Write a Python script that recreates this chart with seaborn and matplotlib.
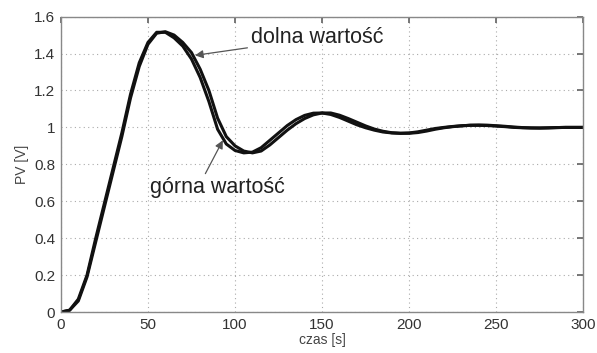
import numpy as np
import pandas as pd
import matplotlib
matplotlib.use("Agg")
import matplotlib.pyplot as plt
import seaborn as sns

t = list(range(0, 305, 5))
gorna = [0.0, 0.01, 0.07, 0.2, 0.4, 0.59, 0.78, 0.97, 1.18, 1.35, 1.46, 1.515, 1.515, 1.485,
         1.44, 1.37, 1.27, 1.14, 0.99, 0.91, 0.875, 0.862, 0.866, 0.89, 0.93, 0.97, 1.01,
         1.042, 1.065, 1.077, 1.078, 1.07, 1.054, 1.034, 1.014, 0.998, 0.985, 0.975, 0.97,
         0.968, 0.97, 0.976, 0.985, 0.994, 1.0, 1.005, 1.009, 1.011, 1.011, 1.01, 1.007,
         1.004, 1.0, 0.998, 0.997, 0.997, 0.998, 0.999, 1.0, 1.0, 1.0]
dolna = [0.0, 0.01, 0.06, 0.19, 0.38, 0.57, 0.76, 0.95, 1.16, 1.33, 1.45, 1.51, 1.518, 1.5,
         1.46, 1.405, 1.315, 1.2, 1.05, 0.95, 0.9, 0.872, 0.862, 0.872, 0.905, 0.945, 0.985,
         1.02, 1.048, 1.068, 1.078, 1.078, 1.066, 1.048, 1.028, 1.008, 0.991, 0.979, 0.971,
         0.968, 0.968, 0.972, 0.98, 0.99, 0.998, 1.004, 1.008, 1.012, 1.013, 1.012, 1.009,
         1.006, 1.002, 0.999, 0.997, 0.996, 0.997, 0.999, 1.0, 1.0, 1.0]

x_ticks = [0, 50, 100, 150, 200, 250, 300]
y_ticks = [0, 0.2, 0.4, 0.6, 0.8, 1.0, 1.2, 1.4, 1.6]
y_tick_labels = ["0", "0.2", "0.4", "0.6", "0.8", "1", "1.2", "1.4", "1.6"]

df = pd.DataFrame({"t": t + t, "pv": gorna + dolna,
                   "seria": ["górna"] * len(t) + ["dolna"] * len(t)})

sns.set_theme(style="white")
plt.rcParams["font.family"] = ["Liberation Sans", "DejaVu Sans"]

fig = plt.figure(figsize=(5.97, 3.53), dpi=100)
ax = fig.add_axes([0.102, 0.116, 0.875, 0.837])

sns.lineplot(data=df, x="t", y="pv", hue="seria", palette=["#111111", "#111111"],
             linewidth=2.2, legend=False, ax=ax)

ax.set_xlim(0, 300)
ax.set_ylim(0, 1.6)
ax.set_xticks(x_ticks)
ax.set_yticks(y_ticks)
ax.set_yticklabels(y_tick_labels)
ax.grid(True, color="#aaaaaa", linestyle=(0, (1, 3)), linewidth=0.8)
for s in ax.spines.values():
    s.set_color("#888888")
    s.set_linewidth(1.0)
ax.tick_params(direction="in", length=4, color="#666666", labelsize=11,
               labelcolor="#333333", top=True, right=True, pad=4)
ax.set_xlabel("czas [s]", fontsize=10, color="#444444", labelpad=1)
ax.set_ylabel("PV [V]", fontsize=10, color="#444444", labelpad=4)

ax.annotate("dolna wartość", xy=(77, 1.39), xytext=(109, 1.485),
            fontsize=15.5, color="#222222", va="center", ha="left",
            arrowprops=dict(arrowstyle="-|>", color="#555555", lw=0.9,
                            mutation_scale=12, shrinkA=0, shrinkB=0))
ax.annotate("górna wartość", xy=(93, 0.93), xytext=(51, 0.675),
            fontsize=15.5, color="#222222", va="center", ha="left",
            arrowprops=dict(arrowstyle="-|>", color="#555555", lw=0.9,
                            mutation_scale=12, shrinkA=0, shrinkB=0,
                            relpos=(0.4, 1.0)))

fig.savefig("out.png", dpi=100)
